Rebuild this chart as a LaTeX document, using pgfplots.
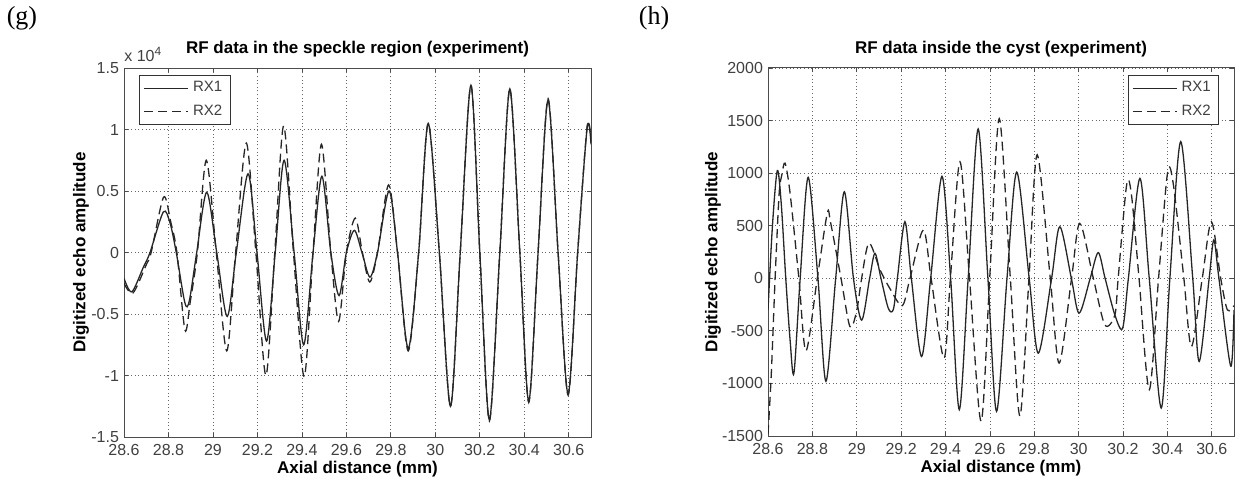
\documentclass[border=0pt]{standalone}
\usepackage{fontspec}
\setmainfont{Liberation Sans}
\newfontfamily\seriffont{Liberation Serif}
\usepackage{pgfplots}
\pgfplotsset{compat=1.18}

\newcommand\tickfont{\fontsize{8}{9}\selectfont}
\newcommand\labfont{\bfseries\fontsize{8.5}{9}\selectfont}

\pgfplotsset{
  matlab/.style={
    scale only axis,
    xmin=28.6, xmax=30.7,
    xtick={28.6,28.8,29,29.2,29.4,29.6,29.8,30,30.2,30.4,30.6},
    xticklabels={28.6,28.8,29,29.2,29.4,29.6,29.8,30,30.2,30.4,30.6},
    scaled ticks=false,
    /pgf/number format/assume math mode=true,
    /pgf/number format/1000 sep={},
    tick align=inside,
    major tick length=2pt,
    tick style={black!70, line width=0.4pt},
    axis line style={black!70, line width=0.5pt},
    grid=major,
    major grid style={black!60, line width=0.4pt, dash pattern=on 0.5pt off 1.3pt},
    ticklabel style={font=\tickfont, text=black!75},
    yticklabel style={xshift=1pt},
    every axis title/.style={at={(axis description cs:0.5,1.05)}, anchor=center, font=\labfont},
    every axis x label/.style={at={(axis description cs:0.5,-0.086)}, anchor=center, font=\labfont},
    legend image code/.code={\draw[#1] (0pt,0pt) -- (22pt,0pt);},
    legend cell align=left,
    legend style={draw=black!80, line width=0.5pt, font=\fontsize{7.5}{8}\selectfont,
      inner xsep=2pt, inner ysep=1pt, row sep=1pt,
      nodes={text=black!75}},
  },
  rx1/.style={black!85, line width=0.65pt, smooth},
  rx2/.style={black!85, line width=0.65pt, smooth, dash pattern=on 4.5pt off 2.5pt},
}

\begin{document}
\begin{tikzpicture}
\useasboundingbox (0,0) rectangle (620pt,241pt);
\node[font=\seriffont\fontsize{13}{14}\selectfont] at (11pt,232pt) {(g)};
\node[font=\seriffont\fontsize{13}{14}\selectfont] at (327pt,232pt) {(h)};

% speckle region, amplitude in units of 1e4
\begin{axis}[matlab, name=L,
  at={(62pt,22.5pt)}, anchor=south west,
  width=233.5pt, height=184.5pt,
  ymin=-1.5, ymax=1.5,
  ytick={-1.5,-1,-0.5,0,0.5,1,1.5},
  yticklabels={-1.5,-1,-0.5,0,0.5,1,1.5},
  title={RF data in the speckle region (experiment)},
  xlabel={Axial distance (mm)},
  ylabel={Digitized echo amplitude},
  every axis y label/.style={at={(axis description cs:-0.092,0.5)}, rotate=90, anchor=center, font=\labfont},
  legend style={at={(0,1)}, anchor=north west, xshift=7.6pt, yshift=-3.5pt},
]
\addplot[rx1] coordinates {
(28.600,-0.21) (28.635,-0.32) (28.687,-0.12) (28.717,0.00) (28.777,0.33)
(28.807,0.24) (28.835,0.00) (28.874,-0.41) (28.894,-0.39) (28.927,0.00)
(28.972,0.49) (29.017,0.00) (29.064,-0.52) (29.105,0.00) (29.158,0.64)
(29.198,0.00) (29.241,-0.72) (29.280,0.00) (29.320,0.75) (29.365,0.00)
(29.408,-0.75) (29.450,0.00) (29.490,0.62) (29.530,0.00) (29.567,-0.35)
(29.600,0.00) (29.636,0.18) (29.670,0.00) (29.706,-0.20) (29.740,0.00)
(29.792,0.50) (29.830,0.00) (29.878,-0.78) (29.925,0.00) (29.968,1.05)
(30.018,0.00) (30.068,-1.25) (30.112,0.00) (30.160,1.36) (30.200,0.00)
(30.243,-1.36) (30.290,0.00) (30.335,1.33) (30.380,0.00) (30.420,-1.21)
(30.462,0.00) (30.507,1.24) (30.552,0.00) (30.597,-1.15) (30.640,0.00)
(30.683,1.02) (30.700,0.88)
};
\addlegendentry{RX1}
\addplot[rx2] coordinates {
(28.600,-0.25) (28.640,-0.33) (28.700,-0.10) (28.722,0.00) (28.778,0.45)
(28.810,0.25) (28.838,0.00) (28.874,-0.63) (28.898,-0.40) (28.930,0.00)
(28.970,0.75) (29.015,0.00) (29.062,-0.80) (29.102,0.00) (29.150,0.89)
(29.193,0.00) (29.238,-1.00) (29.278,0.00) (29.318,1.03) (29.362,0.00)
(29.410,-1.01) (29.450,0.00) (29.488,0.88) (29.530,0.00) (29.565,-0.56)
(29.600,0.00) (29.640,0.28) (29.672,0.00) (29.705,-0.24) (29.740,0.00)
(29.790,0.55) (29.830,0.00) (29.878,-0.80) (29.925,0.00) (29.968,1.05)
(30.018,0.00) (30.068,-1.25) (30.112,0.00) (30.160,1.36) (30.200,0.00)
(30.243,-1.37) (30.290,0.00) (30.335,1.33) (30.380,0.00) (30.420,-1.22)
(30.462,0.00) (30.507,1.25) (30.552,0.00) (30.597,-1.16) (30.640,0.00)
(30.683,1.03) (30.700,0.90)
};
\addlegendentry{RX2}
\end{axis}
\node[anchor=south west, font=\fontsize{8}{9}\selectfont, text=black!75, inner sep=0pt]
  at ([yshift=3pt]L.north west) {x 10\textsuperscript{4}};

% inside the cyst
\begin{axis}[matlab,
  at={(384pt,23pt)}, anchor=south west,
  width=233pt, height=184pt,
  ymin=-1500, ymax=2000,
  ytick={-1500,-1000,-500,0,500,1000,1500,2000},
  yticklabels={-1500,-1000,-500,0,500,1000,1500,2000},
  title={RF data inside the cyst (experiment)},
  xlabel={Axial distance (mm)},
  ylabel={Digitized echo amplitude},
  every axis y label/.style={at={(axis description cs:-0.118,0.5)}, rotate=90, anchor=center, font=\labfont},
  legend style={at={(1,1)}, anchor=north east, xshift=-7.35pt, yshift=-3.5pt},
]
\addplot[rx1] coordinates {
(28.600,-300) (28.620,500) (28.642,1025) (28.660,700) (28.680,0)
(28.700,-600) (28.717,-900) (28.745,0) (28.781,960)
(28.825,0) (28.861,-980) (28.905,0) (28.944,823) (28.985,0)
(29.022,-398) (29.058,0) (29.082,237) (29.109,0) (29.142,-285)
(29.165,-295) (29.183,0) (29.217,538) (29.246,0) (29.292,-744)
(29.333,0) (29.384,970) (29.423,0)
(29.462,-1250) (29.502,0) (29.547,1420) (29.591,0) (29.630,-1266)
(29.677,0) (29.721,1010) (29.777,0) (29.818,-712)
(29.878,0) (29.915,491) (29.967,0) (30.002,-332)
(30.052,0) (30.088,244) (30.119,0) (30.163,-348) (30.198,-475)
(30.224,0) (30.276,950) (30.318,0) (30.372,-1234) (30.411,0)
(30.460,1300) (30.514,0) (30.543,-791) (30.588,0)
(30.609,364) (30.632,0) (30.685,-835) (30.700,-300)
};
\addlegendentry{RX1}
\addplot[rx2] coordinates {
(28.600,-1480) (28.615,-900) (28.632,0) (28.650,800) (28.662,980)
(28.677,1095) (28.700,800) (28.739,0) (28.771,-690) (28.822,0)
(28.867,617) (28.882,530) (28.929,0) (28.969,-459) (28.999,-316)
(29.022,0) (29.055,335) (29.105,80) (29.150,-100) (29.205,-260)
(29.240,0) (29.300,459) (29.335,0) (29.393,-760) (29.422,0)
(29.465,1108) (29.508,0) (29.560,-1360) (29.599,0) (29.642,1519)
(29.692,0) (29.735,-1310) (29.776,0) (29.813,1175) (29.872,0)
(29.912,-807) (29.968,0) (30.005,522) (30.066,0) (30.118,-443)
(30.163,-348) (30.178,0) (30.216,886) (30.238,791) (30.272,0)
(30.318,-1060) (30.360,0) (30.400,997) (30.426,902) (30.474,0)
(30.508,-649) (30.557,0) (30.598,538) (30.640,0) (30.670,-300)
(30.700,-260)
};
\addlegendentry{RX2}
\end{axis}
\end{tikzpicture}
\end{document}
